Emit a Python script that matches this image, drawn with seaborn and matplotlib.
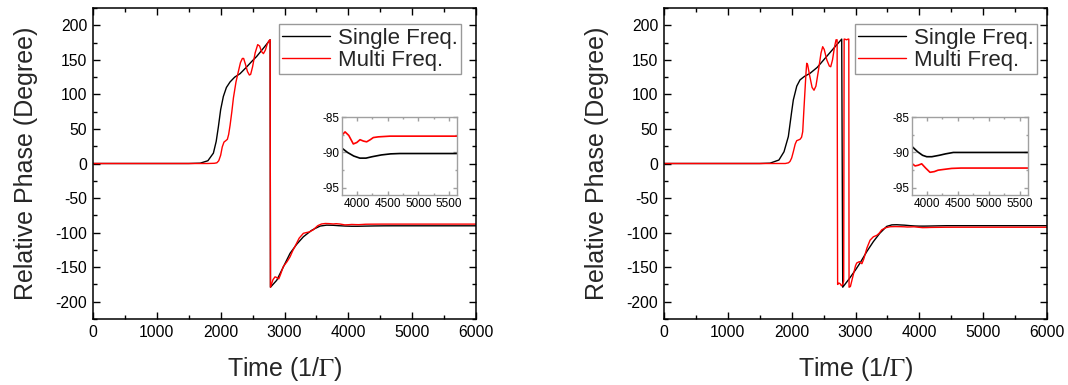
import numpy as np
import pandas as pd
import matplotlib
matplotlib.use("Agg")
import matplotlib.pyplot as plt
from matplotlib.ticker import MultipleLocator
import seaborn as sns

# ---------------- data ----------------
left_single_t = [0, 1500, 1680, 1800, 1886, 1930, 1964, 2000, 2042, 2090, 2147, 2220, 2304, 2400, 2480,
                 2565, 2680, 2775, 2780, 2878, 2980, 3087, 3190, 3296, 3420, 3480, 3560, 3660, 3760, 3850,
                 3950, 4050, 4150, 4250, 4400, 4550, 4700, 5000, 6000]
left_single_v = [0, 0, 0.5, 4, 15, 32, 53, 78, 97, 110, 118, 125, 130, 139, 147,
                 155, 168, 179, -179, -169, -150, -130, -117, -106, -97, -94, -90.5, -89.2, -89.4, -90.0,
                 -90.5, -90.8, -90.8, -90.6, -90.35, -90.2, -90.15, -90.15, -90.15]

left_multi_t = [0, 1800, 1900, 1940, 1970, 2000, 2025, 2052, 2080, 2105, 2125, 2147, 2175, 2200, 2240,
                2277, 2310, 2340, 2360, 2390, 2420, 2450, 2470, 2500, 2540, 2580, 2610, 2640, 2670, 2700,
                2730, 2760, 2775, 2780, 2820, 2852, 2880, 2910, 2940, 2982, 3040, 3087, 3130, 3170, 3230,
                3296, 3340, 3390, 3450, 3520, 3580, 3640, 3700, 3765, 3810, 3870, 3944, 4000, 4053, 4110,
                4161, 4220, 4269, 4350, 4540, 5000, 6000]
left_multi_v = [0, 0, 0.3, 1, 4, 12, 24, 31, 33, 35, 42, 55, 75, 95, 118,
                133, 146, 152, 152, 143, 133, 128, 129, 140, 160, 172, 170, 162, 159, 164,
                173, 178, 179, -179, -168, -164, -165, -167, -160, -149, -142, -135, -126, -119, -108,
                -101, -100, -99, -96, -90, -87.5, -86.8, -87.0, -87.5, -87.1, -87.6, -88.8, -88.6, -88.2, -88.4,
                -88.5, -88.2, -87.9, -87.8, -87.7, -87.7, -87.7]

right_single_t = [0, 1500, 1661, 1800, 1880, 1948, 2000, 2026, 2080, 2131, 2200, 2288, 2400, 2549, 2680,
                  2784, 2800, 2900, 3000, 3071, 3180, 3280, 3380, 3489, 3570, 3646, 3720, 3765, 3850, 3930,
                  3997, 4080, 4200, 4300, 4426, 4600, 6000]
right_single_v = [0, 0, 0.5, 5, 17, 39, 75, 92, 112, 121, 126, 130.5, 139, 155, 169,
                  180, -179, -167, -154, -144, -127, -113, -101, -91, -88.8, -88.6, -89.0, -89.2, -89.9, -90.4,
                  -90.6, -90.6, -90.4, -90.2, -90.0, -90.0, -90.0]

right_multi_t = [0, 1900, 1950, 1974, 2000, 2026, 2055, 2079, 2105, 2131, 2155, 2173, 2190, 2209, 2225,
                 2236, 2250, 2280, 2320, 2350, 2380, 2420, 2460, 2486, 2510, 2550, 2590, 2612, 2640, 2670,
                 2695, 2712, 2720, 2740, 2760, 2780, 2800, 2815, 2822, 2830, 2860, 2885, 2895, 2899, 2920,
                 2960, 3000, 3019, 3060, 3100, 3130, 3180, 3228, 3280, 3333, 3370, 3411, 3470, 3541, 3620,
                 3700, 3765, 3810, 3860, 3916, 3980, 4050, 4120, 4180, 4265, 4400, 4550, 6000]
right_multi_v = [0, 0, 1, 3, 8, 17, 28, 33, 34, 35, 38, 46, 75, 106, 132,
                 145, 143, 128, 110, 106, 112, 135, 160, 169, 165, 150, 141, 140, 150, 168,
                 179, 179, -175, -173, -174, -177, -175, -170, 180, 180, 179, 180, 180, -179, -178,
                 -163, -148, -144, -142, -145, -138, -122, -111, -106, -104, -101, -96, -93, -91.5, -91.3,
                 -91.4, -91.6, -91.9, -91.8, -91.6, -92.2, -92.8, -92.7, -92.5, -92.4, -92.25, -92.2, -92.2]

series_labels = ["Single Freq.", "Multi Freq."]
series_colors = ["#000000", "#ff0000"]
x_ticks = [0, 1000, 2000, 3000, 4000, 5000, 6000]
y_ticks = [-200, -150, -100, -50, 0, 50, 100, 150, 200]
inset_x_ticks = [4000, 4500, 5000, 5500]
inset_y_ticks = [-95, -90, -85]

# ---------------- style ----------------
sns.set_theme(style="ticks")
plt.rcParams["font.family"] = ["Liberation Sans", "DejaVu Sans"]
plt.rcParams["mathtext.fontset"] = "stix"
plt.rcParams["axes.unicode_minus"] = False
plt.rcParams["axes.linewidth"] = 1.1

fig = plt.figure(figsize=(10.68, 3.85), dpi=100)

panels = [
    dict(rect=[93 / 1068, 1 - 319 / 385, 383 / 1068, 311 / 385],
         inset=[342 / 1068, 1 - 195 / 385, 115 / 1068, 78 / 385],
         leg=(0.486, 0.947),
         s=(left_single_t, left_single_v), m=(left_multi_t, left_multi_v)),
    dict(rect=[664 / 1068, 1 - 319 / 385, 383 / 1068, 311 / 385],
         inset=[912 / 1068, 1 - 195 / 385, 116 / 1068, 78 / 385],
         leg=(0.499, 0.947),
         s=(right_single_t, right_single_v), m=(right_multi_t, right_multi_v)),
]


def style_axes(ax, major_len, minor_len, labelsize, color="black"):
    ax.tick_params(which="both", direction="in", top=True, right=True,
                   labelsize=labelsize, colors="black", pad=4)
    ax.tick_params(which="major", length=major_len, width=1.0, color=color)
    ax.tick_params(which="minor", length=minor_len, width=1.0, color=color)
    for sp in ax.spines.values():
        sp.set_color(color)


for p in panels:
    ax = fig.add_axes(p["rect"])
    df_s = pd.DataFrame({"t": p["s"][0], "v": p["s"][1]})
    df_m = pd.DataFrame({"t": p["m"][0], "v": p["m"][1]})
    sns.lineplot(data=df_s, x="t", y="v", ax=ax, color=series_colors[0], lw=1.0,
                 sort=False, estimator=None, label=series_labels[0])
    sns.lineplot(data=df_m, x="t", y="v", ax=ax, color=series_colors[1], lw=1.0,
                 sort=False, estimator=None, label=series_labels[1])
    ax.set_xlim(0, 6000)
    ax.set_ylim(-225, 225)
    ax.set_xticks(x_ticks)
    ax.set_yticks(y_ticks)
    ax.xaxis.set_minor_locator(MultipleLocator(500))
    ax.yaxis.set_minor_locator(MultipleLocator(25))
    style_axes(ax, 5, 3, 11.3)
    ax.set_xlabel(r"Time (1/$\Gamma$)", fontsize=18, labelpad=11)
    ax.set_ylabel("Relative Phase (Degree)", fontsize=18, labelpad=13)
    leg = ax.legend(loc="upper left", bbox_to_anchor=p["leg"], borderaxespad=0,
                    fontsize=16, handlelength=2.15, handletextpad=0.35,
                    borderpad=0.15, labelspacing=0.05, fancybox=False, frameon=True)
    leg.get_frame().set_edgecolor("#808080")
    leg.get_frame().set_linewidth(1.0)

    ins = fig.add_axes(p["inset"])
    sns.lineplot(data=df_s, x="t", y="v", ax=ins, color=series_colors[0], lw=1.2,
                 sort=False, estimator=None, legend=False)
    sns.lineplot(data=df_m, x="t", y="v", ax=ins, color=series_colors[1], lw=1.2,
                 sort=False, estimator=None, legend=False)
    ins.set_xlim(3760, 5630)
    ins.set_ylim(-96, -85)
    ins.set_xticks(inset_x_ticks)
    ins.set_yticks(inset_y_ticks)
    ins.xaxis.set_minor_locator(MultipleLocator(250))
    ins.yaxis.set_minor_locator(MultipleLocator(2.5))
    ins.set_xlabel("")
    ins.set_ylabel("")
    style_axes(ins, 3, 1.5, 8.5, color="#a0a0a0")
    ins.tick_params(which="both", pad=2)
    for sp in ins.spines.values():
        sp.set_linewidth(1.0)

fig.savefig("out.png", dpi=100)
